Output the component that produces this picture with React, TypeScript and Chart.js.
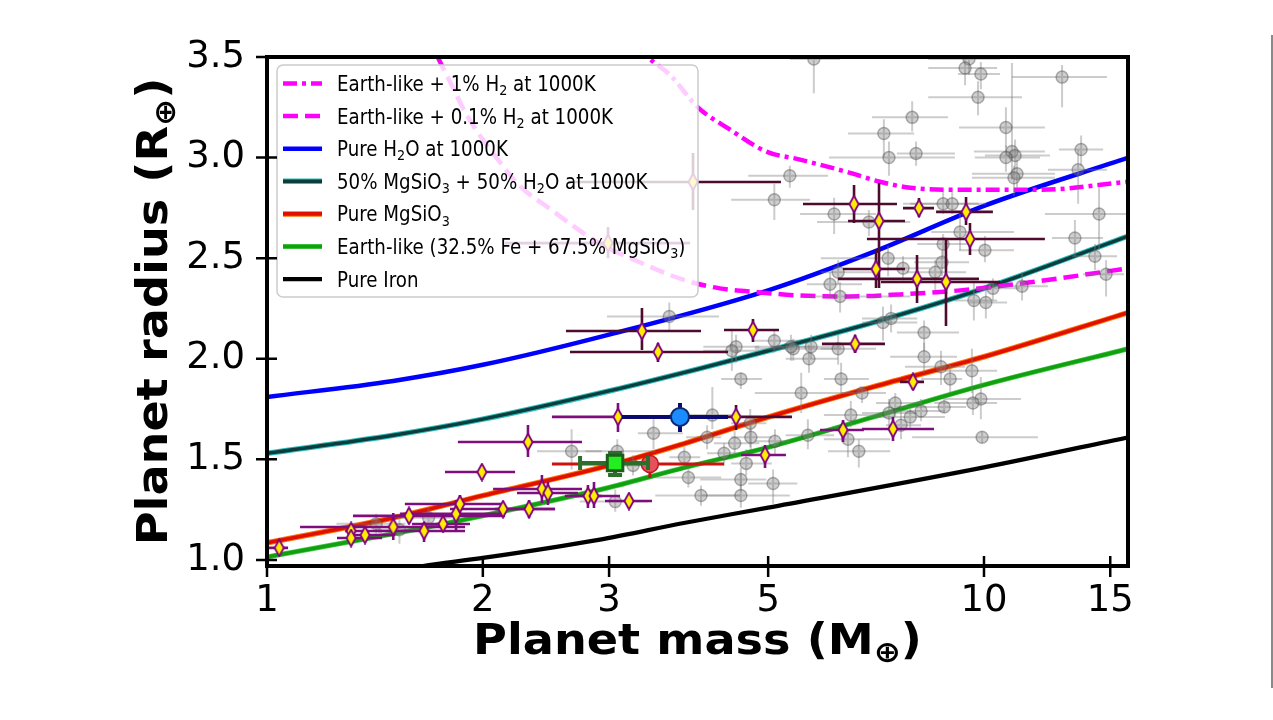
import React, { useEffect, useRef } from "react";
import { Chart, registerables } from "chart.js";

Chart.register(...registerables);

// ---------------- axes ----------------
const X_TICKS = [1, 2, 3, 5, 10, 15];
const Y_TICKS = [1.0, 1.5, 2.0, 2.5, 3.0, 3.5];
const X_MIN = 1;
const X_MAX = 15.88;
const Y_MIN = 0.97;
const Y_MAX = 3.5;

// ---------------- model curves (mass in M_earth, radius in R_earth) ----------------
const H2_1PCT_MASS = [3.3, 3.4, 3.65, 3.99, 4.42, 4.97, 5.54, 6.42, 7.16, 7.89, 9.26, 11.97, 15.9];
const H2_1PCT_RADIUS = [3.56, 3.5, 3.41, 3.25, 3.14, 3.03, 2.99, 2.93, 2.88, 2.85, 2.84, 2.84, 2.88];

const H2_01PCT_MASS = [1.68, 1.73, 1.81, 1.9, 2.1, 2.25, 2.47, 2.89, 3.31, 3.83, 4.28, 4.87, 5.5, 6.5, 7.64, 9.26, 11.6, 15.9];
const H2_01PCT_RADIUS = [3.6, 3.5, 3.36, 3.21, 2.99, 2.86, 2.75, 2.58, 2.48, 2.39, 2.35, 2.33, 2.315, 2.31, 2.32, 2.34, 2.38, 2.45];

const PURE_H2O_MASS = [1, 1.5, 2, 3, 5, 7, 10, 15.9];
const PURE_H2O_RADIUS = [1.81, 1.89, 1.97, 2.12, 2.34, 2.53, 2.76, 3.0];

const HALF_WATER_MASS = [1, 1.5, 2, 3, 4, 5, 7, 10, 15.9];
const HALF_WATER_RADIUS = [1.53, 1.62, 1.7, 1.84, 1.95, 2.04, 2.18, 2.35, 2.61];

const MGSIO3_MASS = [1, 1.5, 2, 3, 3.83, 5, 7, 10, 15.9];
const MGSIO3_RADIUS = [1.085, 1.21, 1.32, 1.47, 1.58, 1.71, 1.86, 2.01, 2.23];

const EARTHLIKE_MASS = [1, 1.5, 2, 3, 3.83, 5, 7, 10, 15.9];
const EARTHLIKE_RADIUS = [1.015, 1.13, 1.22, 1.36, 1.46, 1.56, 1.71, 1.87, 2.05];

const IRON_MASS = [1, 1.5, 1.65, 2, 2.9, 3.83, 5, 10, 15.9];
const IRON_RADIUS = [0.83, 0.945, 0.97, 1.01, 1.1, 1.185, 1.26, 1.46, 1.61];

// ---------------- planets: [mass, radius, massLo, massHi, radiusLo, radiusHi] ----------------
const GRAY_PLANETS = [
  [9.53, 3.49, 8.36, 10.53, 3.41, 3.56],
  [9.41, 3.445, 8.36, 10.43, 3.36, 3.51],
  [9.9, 3.415, 9.2, 10.53, 3.34, 3.475],
  [12.85, 3.4, 10.94, 14.84, 3.25, 3.46],
  [9.81, 3.3, 8.36, 11.3, 3.21, 3.38],
  [7.94, 3.2, 6.98, 8.91, 3.13, 3.28],
  [7.25, 3.12, 6.46, 7.99, 3.0, 3.19],
  [10.73, 3.15, 9.23, 12.16, 3.05, 3.25],
  [7.37, 3.0, 6.08, 9.11, 2.91, 3.08],
  [8.04, 3.02, 7.56, 9.11, 2.96, 3.08],
  [10.94, 3.03, 9.68, 12.16, 2.89, 3.47],
  [11.05, 3.01, 10.03, 12.36, 2.94, 3.09],
  [10.73, 3.0, 9.71, 11.97, 2.93, 3.06],
  [13.66, 3.04, 12.72, 14.66, 2.96, 3.11],
  [13.53, 2.94, 12.28, 14.84, 2.77, 3.04],
  [11.12, 2.92, 9.62, 12.56, 2.85, 2.99],
  [11.01, 2.9, 9.62, 12.56, 2.81, 2.96],
  [5.36, 2.91, 4.69, 6.06, 2.85, 2.96],
  [5.1, 2.79, 4.44, 5.72, 2.69, 2.87],
  [6.18, 2.72, 5.54, 7.07, 2.62, 2.8],
  [6.91, 2.68, 5.85, 7.89, 2.61, 2.74],
  [8.77, 2.77, 7.71, 9.84, 2.72, 2.83],
  [9.03, 2.77, 7.89, 10.06, 2.72, 2.83],
  [9.26, 2.63, 8.44, 11.01, 2.54, 2.72],
  [14.47, 2.72, 12.16, 15.88, 2.54, 2.85],
  [13.39, 2.6, 12.44, 14.66, 2.51, 2.69],
  [10.03, 2.54, 9.23, 11.01, 2.48, 2.61],
  [7.35, 2.5, 5.92, 8.82, 2.41, 2.56],
  [8.77, 2.57, 8.07, 9.62, 2.51, 2.62],
  [8.74, 2.48, 7.99, 9.53, 2.41, 2.54],
  [8.55, 2.43, 7.81, 9.44, 2.34, 2.49],
  [7.71, 2.45, 7.16, 8.41, 2.39, 2.51],
  [6.26, 2.43, 5.92, 7.16, 2.37, 2.49],
  [6.1, 2.37, 5.66, 6.76, 2.3, 2.43],
  [6.3, 2.31, 5.66, 7.89, 2.23, 2.38],
  [11.3, 2.36, 10.29, 12.28, 2.29, 2.43],
  [14.8, 2.42, 13.75, 15.68, 2.31, 2.49],
  [14.28, 2.51, 13.27, 15.33, 2.44, 2.57],
  [9.68, 2.29, 9.11, 10.43, 2.19, 2.38],
  [10.06, 2.28, 9.53, 10.77, 2.2, 2.34],
  [10.29, 2.35, 9.75, 11.22, 2.29, 2.4],
  [7.23, 2.18, 6.76, 8.07, 2.09, 2.26],
  [7.42, 2.2, 6.76, 8.07, 2.13, 2.27],
  [8.25, 2.13, 7.56, 9.23, 2.04, 2.19],
  [5.74, 2.06, 4.79, 6.32, 2.0, 2.12],
  [5.42, 2.05, 4.79, 6.32, 1.99, 2.1],
  [4.51, 2.06, 4.06, 4.86, 1.98, 2.12],
  [4.45, 2.04, 4.06, 4.86, 1.94, 2.14],
  [6.26, 2.05, 5.92, 7.07, 1.97, 2.12],
  [5.7, 2.0, 5.29, 6.26, 1.93, 2.07],
  [8.25, 2.01, 7.4, 9.17, 1.93, 2.08],
  [8.71, 1.96, 7.76, 9.41, 1.87, 2.04],
  [3.64, 2.21, 2.98, 4.27, 2.14, 2.28],
  [5.1, 2.09, 4.75, 5.54, 2.03, 2.14],
  [5.38, 2.06, 5.03, 5.81, 1.99, 2.12],
  [8.97, 1.9, 8.17, 9.32, 1.83, 1.97],
  [9.62, 1.94, 8.82, 10.43, 1.83, 2.05],
  [9.9, 1.8, 8.82, 11.26, 1.7, 1.91],
  [9.65, 1.78, 8.52, 10.43, 1.72, 1.85],
  [8.8, 1.76, 7.56, 9.44, 1.73, 1.81],
  [8.17, 1.74, 7.4, 8.82, 1.69, 1.8],
  [7.89, 1.71, 6.91, 8.82, 1.65, 1.75],
  [7.52, 1.78, 7.07, 8.17, 1.71, 1.83],
  [7.37, 1.73, 6.76, 8.07, 1.66, 1.8],
  [6.76, 1.83, 6.32, 7.3, 1.78, 1.86],
  [6.52, 1.72, 5.98, 7.3, 1.66, 1.79],
  [6.46, 1.6, 5.98, 7.4, 1.51, 1.65],
  [6.69, 1.54, 6.06, 7.4, 1.46, 1.6],
  [7.66, 1.67, 7.3, 8.17, 1.6, 1.74],
  [9.94, 1.61, 7.94, 11.89, 1.58, 1.64],
  [6.32, 1.9, 5.98, 6.91, 1.83, 1.98],
  [5.56, 1.83, 4.79, 6.4, 1.73, 1.93],
  [4.58, 1.9, 4.3, 4.9, 1.85, 1.93],
  [4.18, 1.72, 3.64, 4.58, 1.65, 1.86],
  [3.46, 1.63, 3.29, 3.8, 1.55, 1.7],
  [3.82, 1.51, 3.64, 4.02, 1.45, 1.56],
  [3.08, 1.54, 2.78, 3.48, 1.47, 1.6],
  [4.72, 1.68, 4.44, 4.97, 1.56, 1.75],
  [4.73, 1.61, 4.44, 5.06, 1.55, 1.67],
  [4.49, 1.58, 4.2, 4.86, 1.52, 1.64],
  [4.11, 1.61, 3.84, 4.3, 1.55, 1.67],
  [4.34, 1.53, 4.11, 4.54, 1.47, 1.58],
  [4.66, 1.48, 4.44, 5.06, 1.42, 1.55],
  [5.11, 1.59, 4.79, 5.36, 1.52, 1.65],
  [5.68, 1.62, 5.29, 6.18, 1.55, 1.7],
  [3.87, 1.41, 3.48, 4.3, 1.36, 1.46],
  [4.58, 1.4, 4.02, 4.97, 1.34, 1.46],
  [5.08, 1.38, 4.69, 5.49, 1.28, 1.45],
  [4.58, 1.32, 4.02, 5.36, 1.26, 1.43],
  [4.03, 1.32, 3.48, 4.58, 1.27, 1.37],
  [3.06, 1.29, 2.73, 3.4, 1.24, 1.35],
  [2.66, 1.54, 2.38, 2.93, 1.45, 1.65],
  [3.24, 1.47, 2.99, 3.4, 1.42, 1.52],
  [1.42, 1.18, 1.25, 1.56, 1.13, 1.23],
  [1.53, 1.15, 1.43, 1.65, 1.08, 1.21],
  [1.68, 1.21, 1.52, 1.81, 1.16, 1.26],
  [5.79, 3.49, 5.36, 6.3, 3.32, 3.58],
];

// diamonds with purple error bars
const SAMPLE_A_PLANETS = [
  [1.04, 1.06, 1.0, 1.07, 1.035, 1.085],
  [1.31, 1.144, 1.285, 1.447, 1.109, 1.179],
  [1.31, 1.109, 1.252, 1.447, 1.085, 1.134],
  [1.37, 1.124, 1.305, 1.509, 1.094, 1.154],
  [1.5, 1.164, 1.112, 1.889, 1.099, 1.234],
  [1.578, 1.219, 1.318, 2.147, 1.184, 1.258],
  [1.656, 1.144, 1.428, 1.889, 1.089, 1.189],
  [1.76, 1.179, 1.593, 1.919, 1.149, 1.209],
  [1.835, 1.229, 1.533, 2.147, 1.149, 1.298],
  [1.858, 1.278, 1.557, 2.147, 1.234, 1.323],
  [1.994, 1.437, 1.771, 2.218, 1.398, 1.472],
  [2.134, 1.253, 1.8, 2.522, 1.214, 1.283],
  [2.312, 1.586, 1.846, 2.75, 1.512, 1.671],
  [2.32, 1.253, 2.08, 2.522, 1.209, 1.298],
  [2.418, 1.353, 2.067, 2.75, 1.283, 1.422],
  [2.465, 1.333, 2.232, 2.715, 1.273, 1.388],
  [2.803, 1.318, 2.603, 2.933, 1.258, 1.373],
  [2.858, 1.318, 2.689, 3.107, 1.258, 1.388],
  [3.198, 1.293, 2.961, 3.443, 1.258, 1.323],
  [3.087, 1.711, 2.497, 3.767, 1.636, 1.78],
  [6.359, 1.646, 5.905, 6.8, 1.586, 1.696],
  [7.466, 1.651, 6.757, 8.517, 1.591, 1.711],
  [4.95, 1.522, 4.583, 5.294, 1.457, 1.572],
  [2.99, 2.575, 2.147, 3.89, 2.5, 2.655],
];

// diamonds with dark maroon error bars
const SAMPLE_B_PLANETS = [
  [3.334, 2.138, 2.612, 4.03, 2.044, 2.252],
  [3.51, 2.034, 2.646, 4.395, 1.984, 2.079],
  [4.762, 2.143, 4.339, 5.177, 2.084, 2.198],
  [6.61, 2.074, 5.943, 7.276, 2.029, 2.118],
  [4.51, 1.711, 3.89, 5.397, 1.646, 1.77],
  [7.962, 1.885, 7.635, 8.248, 1.845, 1.924],
  [6.588, 2.769, 5.592, 7.562, 2.675, 2.864],
  [7.138, 2.685, 6.462, 7.759, 2.352, 2.874],
  [8.116, 2.749, 7.709, 8.517, 2.705, 2.799],
  [9.44, 2.73, 8.574, 10.29, 2.665, 2.804],
  [9.56, 2.595, 6.866, 12.16, 2.516, 2.675],
  [7.07, 2.446, 6.359, 7.759, 2.352, 2.541],
  [8.065, 2.397, 6.258, 9.84, 2.277, 2.516],
  [8.851, 2.382, 7.183, 10.53, 2.163, 2.59],
  [3.928, 2.879, 2.63, 5.21, 2.74, 3.023],
];

const BLUE_PLANET = [[3.767, 1.711, 3.127, 4.395, 1.636, 1.78]];
const GREEN_PLANET = [[3.058, 1.482, 2.733, 3.4, 1.422, 1.532]];
const RED_PLANET = [[3.42, 1.477, 2.497, 4.339, 1.408, 1.527]];

// ---------------- legend text ----------------
type Seg = [string, boolean?];
const LEGEND_LABELS: Seg[][] = [
  [["Earth-like + 1% H"], ["2", true], [" at 1000K"]],
  [["Earth-like + 0.1% H"], ["2", true], [" at 1000K"]],
  [["Pure H"], ["2", true], ["O at 1000K"]],
  [["50% MgSiO"], ["3", true], [" + 50% H"], ["2", true], ["O at 1000K"]],
  [["Pure MgSiO"], ["3", true]],
  [["Earth-like (32.5% Fe + 67.5% MgSiO"], ["3", true], [")"]],
  [["Pure Iron"]],
];
const X_TITLE: Seg[] = [["Planet mass (M"], ["\u2295", true], [")"]];
const Y_TITLE: Seg[] = [["Planet radius (R"], ["\u2295", true], [")"]];

const FONT = '"DejaVu Sans", "Noto Sans", sans-serif';

type Layer = [string, number];
const CURVES: { mass: number[]; radius: number[]; layers: Layer[]; dash: number[] }[] = [
  { mass: H2_1PCT_MASS, radius: H2_1PCT_RADIUS, layers: [["#ff00ff", 4.5]], dash: [14, 5, 4, 5] },
  { mass: H2_01PCT_MASS, radius: H2_01PCT_RADIUS, layers: [["#ff00ff", 4.5]], dash: [15, 7] },
  { mass: PURE_H2O_MASS, radius: PURE_H2O_RADIUS, layers: [["#0000ff", 4.5]], dash: [] },
  { mass: HALF_WATER_MASS, radius: HALF_WATER_RADIUS, layers: [["#2bbcbc", 5.5], ["#0b3d3d", 3.4]], dash: [] },
  { mass: MGSIO3_MASS, radius: MGSIO3_RADIUS, layers: [["#ff7000", 5.5], ["#e01000", 3.6]], dash: [] },
  { mass: EARTHLIKE_MASS, radius: EARTHLIKE_RADIUS, layers: [["#48c848", 5], ["#10a010", 3.6]], dash: [] },
  { mass: IRON_MASS, radius: IRON_RADIUS, layers: [["#000000", 4.2]], dash: [] },
];

function toPoints(rows: number[][]) {
  return rows.map((r) => ({ x: r[0], y: r[1] }));
}

function drawRich(
  ctx: CanvasRenderingContext2D,
  segs: Seg[],
  size: number,
  weight: string,
  sx: number,
  align: "left" | "center"
) {
  const sub = size * 0.7;
  const widths = segs.map(([t, s]) => {
    ctx.font = `${weight} ${s ? sub : size}px ${FONT}`;
    return ctx.measureText(t).width;
  });
  const total = widths.reduce((a, b) => a + b, 0);
  ctx.save();
  ctx.scale(sx, 1);
  ctx.textAlign = "left";
  ctx.textBaseline = "alphabetic";
  ctx.fillStyle = "#000";
  let cx = align === "center" ? -total / 2 : 0;
  segs.forEach(([t, s], i) => {
    ctx.font = `${weight} ${s ? sub : size}px ${FONT}`;
    ctx.fillText(t, cx, s ? size * 0.2 : 0);
    cx += widths[i];
  });
  ctx.restore();
}

const errorBarPlugin = {
  id: "errorBars",
  beforeDatasetDraw(chart: any, args: any) {
    const ds = chart.data.datasets[args.index];
    const eb = ds.errorBars;
    if (!eb) return;
    const { ctx, chartArea } = chart;
    const xs = chart.scales.x;
    const ys = chart.scales.y;
    ctx.save();
    ctx.beginPath();
    ctx.rect(chartArea.left, chartArea.top, chartArea.right - chartArea.left, chartArea.bottom - chartArea.top);
    ctx.clip();
    ctx.strokeStyle = eb.color;
    ctx.lineWidth = eb.width;
    ctx.lineCap = "butt";
    eb.rows.forEach((r: number[]) => {
      const px = xs.getPixelForValue(r[0]);
      const py = ys.getPixelForValue(r[1]);
      const x0 = xs.getPixelForValue(r[2]);
      const x1 = xs.getPixelForValue(r[3]);
      const y0 = ys.getPixelForValue(r[4]);
      const y1 = ys.getPixelForValue(r[5]);
      ctx.beginPath();
      ctx.moveTo(x0, py);
      ctx.lineTo(x1, py);
      ctx.moveTo(px, y0);
      ctx.lineTo(px, y1);
      if (eb.cap) {
        ctx.moveTo(x0, py - eb.cap);
        ctx.lineTo(x0, py + eb.cap);
        ctx.moveTo(x1, py - eb.cap);
        ctx.lineTo(x1, py + eb.cap);
        ctx.moveTo(px - eb.cap, y0);
        ctx.lineTo(px + eb.cap, y0);
        ctx.moveTo(px - eb.cap, y1);
        ctx.lineTo(px + eb.cap, y1);
      }
      ctx.stroke();
    });
    ctx.restore();
  },
};

const decorPlugin = {
  id: "decor",
  afterDatasetsDraw(chart: any) {
    const { ctx, chartArea } = chart;
    // legend (semi-transparent, over the data)
    const lx = chartArea.left + 10;
    const ly = chartArea.top + 8;
    const lw = 421;
    const lh = 232;
    ctx.save();
    ctx.beginPath();
    (ctx as any).roundRect(lx, ly, lw, lh, 6);
    ctx.fillStyle = "rgba(255,255,255,0.8)";
    ctx.fill();
    ctx.strokeStyle = "#cccccc";
    ctx.lineWidth = 1.5;
    ctx.stroke();
    LEGEND_LABELS.forEach((segs, i) => {
      const cy = ly + 18.5 + i * 32.6;
      const c = CURVES[i];
      c.layers.forEach(([color, width]) => {
        ctx.beginPath();
        ctx.setLineDash(c.dash);
        ctx.strokeStyle = color;
        ctx.lineWidth = width;
        ctx.moveTo(lx + 6, cy);
        ctx.lineTo(lx + 45, cy);
        ctx.stroke();
      });
      ctx.setLineDash([]);
      ctx.save();
      ctx.translate(lx + 60, cy + 7.5);
      drawRich(ctx, segs, 20.5, "normal", 0.89, "left");
      ctx.restore();
    });
    ctx.restore();
  },
  afterDraw(chart: any) {
    const { ctx, chartArea } = chart;
    const xs = chart.scales.x;
    const ys = chart.scales.y;
    ctx.save();
    // spines
    ctx.strokeStyle = "#000";
    ctx.lineWidth = 4;
    ctx.strokeRect(chartArea.left, chartArea.top, chartArea.right - chartArea.left, chartArea.bottom - chartArea.top);
    // in-out tick marks
    ctx.lineWidth = 2.5;
    ctx.beginPath();
    X_TICKS.forEach((v) => {
      const px = xs.getPixelForValue(v);
      ctx.moveTo(px, chartArea.bottom - 10);
      ctx.lineTo(px, chartArea.bottom + 11);
    });
    Y_TICKS.forEach((v) => {
      const py = ys.getPixelForValue(v);
      ctx.moveTo(chartArea.left - 11, py);
      ctx.lineTo(chartArea.left + 10, py);
    });
    ctx.stroke();
    // axis titles
    ctx.save();
    ctx.translate((chartArea.left + chartArea.right) / 2, 654);
    drawRich(ctx, X_TITLE, 42, "bold", 1.1, "center");
    ctx.restore();
    ctx.save();
    ctx.translate(167, (chartArea.top + chartArea.bottom) / 2);
    ctx.rotate(-Math.PI / 2);
    drawRich(ctx, Y_TITLE, 42, "bold", 1.1, "center");
    ctx.restore();
    // page frame line at the right edge
    ctx.fillStyle = "#8a8a8a";
    ctx.fillRect(1271, 35, 2, 653);
    ctx.restore();
  },
};

function makeDiamond() {
  const c = document.createElement("canvas");
  c.width = 12;
  c.height = 19;
  const g = c.getContext("2d")!;
  g.beginPath();
  g.moveTo(6, 1.2);
  g.lineTo(10.6, 9.5);
  g.lineTo(6, 17.8);
  g.lineTo(1.4, 9.5);
  g.closePath();
  g.fillStyle = "#ffee00";
  g.fill();
  g.lineWidth = 1.8;
  g.strokeStyle = "#800080";
  g.stroke();
  return c;
}

export default function App() {
  const ref = useRef<HTMLCanvasElement>(null);

  useEffect(() => {
    const diamond = makeDiamond();
    const datasets: any[] = [];

    CURVES.forEach((c) => {
      c.layers.forEach(([color, width], li) => {
        datasets.push({
          data: c.mass.map((m, i) => ({ x: m, y: c.radius[i] })),
          showLine: true,
          borderColor: color,
          borderWidth: width,
          borderDash: c.dash,
          pointRadius: 0,
          fill: false,
          cubicInterpolationMode: "monotone",
          order: 10 + (c.layers.length - 1 - li),
        });
      });
    });

    datasets.push({
      data: toPoints(GRAY_PLANETS),
      pointStyle: "circle",
      pointRadius: 6,
      backgroundColor: "rgba(128,128,128,0.38)",
      borderColor: "rgba(70,70,70,0.4)",
      borderWidth: 1.5,
      errorBars: { rows: GRAY_PLANETS, color: "rgba(120,120,120,0.38)", width: 2 },
      order: 6,
    });
    datasets.push({
      data: toPoints(SAMPLE_A_PLANETS),
      pointStyle: diamond,
      pointRadius: 8,
      errorBars: { rows: SAMPLE_A_PLANETS, color: "#7d0f7d", width: 2.6 },
      order: 5,
    });
    datasets.push({
      data: toPoints(SAMPLE_B_PLANETS),
      pointStyle: diamond,
      pointRadius: 8,
      errorBars: { rows: SAMPLE_B_PLANETS, color: "#4e0b2e", width: 2.6 },
      order: 4,
    });
    datasets.push({
      data: toPoints(RED_PLANET),
      pointStyle: "circle",
      pointRadius: 8.5,
      backgroundColor: "#e8505c",
      borderColor: "#b81c1c",
      borderWidth: 1.5,
      errorBars: { rows: RED_PLANET, color: "#cc1111", width: 3 },
      order: 3,
    });
    datasets.push({
      data: toPoints(GREEN_PLANET),
      pointStyle: "rect",
      pointRadius: 11,
      backgroundColor: "#22ee22",
      borderColor: "#1d5e1d",
      borderWidth: 3,
      errorBars: { rows: GREEN_PLANET, color: "#2c6e2c", width: 4, cap: 7 },
      order: 2,
    });
    datasets.push({
      data: toPoints(BLUE_PLANET),
      pointStyle: "circle",
      pointRadius: 9,
      backgroundColor: "#1a8cff",
      borderColor: "#0a2a6a",
      borderWidth: 2,
      errorBars: { rows: BLUE_PLANET, color: "#0a0a70", width: 4 },
      order: 1,
    });

    const tickFont = { family: FONT, size: 37 };
    const chart = new Chart(ref.current!, {
      type: "scatter",
      data: { datasets },
      options: {
        animation: false,
        responsive: false,
        devicePixelRatio: 1,
        events: [],
        layout: { padding: { top: 57, right: 145, left: 0, bottom: 0 } },
        plugins: { legend: { display: false }, tooltip: { enabled: false }, title: { display: false } },
        scales: {
          x: {
            type: "logarithmic",
            position: "bottom",
            min: X_MIN,
            max: X_MAX,
            afterFit: (s: any) => {
              s.height = 154;
            },
            afterBuildTicks: (s: any) => {
              s.ticks = X_TICKS.map((v) => ({ value: v }));
            },
            grid: { display: false },
            border: { display: false },
            ticks: {
              autoSkip: false,
              maxRotation: 0,
              minRotation: 0,
              padding: 5,
              color: "#000",
              font: tickFont,
              callback: (v: any) => String(v),
            },
          },
          y: {
            type: "linear",
            position: "left",
            min: Y_MIN,
            max: Y_MAX,
            afterFit: (s: any) => {
              s.width = 267;
            },
            afterBuildTicks: (s: any) => {
              s.ticks = Y_TICKS.map((v) => ({ value: v }));
            },
            grid: { display: false },
            border: { display: false },
            ticks: {
              autoSkip: false,
              padding: 14,
              color: "#000",
              font: tickFont,
              callback: (v: any) => Number(v).toFixed(1),
            },
          },
        },
      } as any,
      plugins: [errorBarPlugin, decorPlugin],
    });
    return () => chart.destroy();
  }, []);

  return (
    <div style={{ position: "absolute", left: 0, top: 0, width: 1273, height: 720, background: "#fff" }}>
      <canvas ref={ref} width={1273} height={720} style={{ display: "block", width: 1273, height: 720 }} />
    </div>
  );
}
